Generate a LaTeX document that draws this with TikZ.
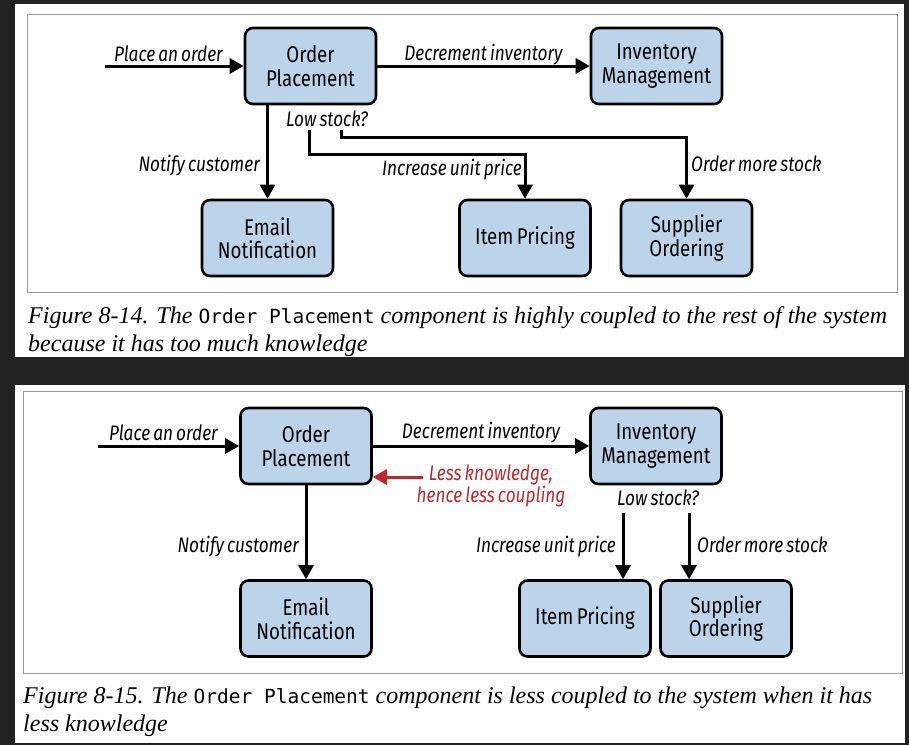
\documentclass[tikz,border=0pt]{standalone}
\usepackage{fontspec}
\setmainfont{Liberation Serif}
\newfontfamily\diagfont[FakeStretch=0.82]{Fira Sans}
\newfontfamily\notefont[FakeStretch=0.82,WordSpace=0.7]{Fira Sans}
\newfontfamily\codefont{DejaVu Sans Mono}
\usetikzlibrary{arrows.meta}
\definecolor{pagedark}{HTML}{222222}
\definecolor{compblue}{HTML}{BBD4EA}
\definecolor{noteRed}{HTML}{BE282D}
\definecolor{framegray}{HTML}{9A9A9A}
\tikzset{
	comp/.style={draw, rounded corners=8pt, fill=compblue, line width=2.6pt,
		minimum width=131pt, minimum height=76pt, align=center, inner sep=2pt,
		font=\diagfont\fontsize{22.8}{23.5}\selectfont},
	flow/.style={line width=3pt, -{Triangle[length=14pt,width=15pt]}},
	lbl/.style={inner sep=0pt, font=\notefont\itshape\fontsize{21}{22}\selectfont},
	capt/.style={inner sep=0pt, anchor=base west, font=\itshape\fontsize{24}{28}\selectfont},
}
\newcommand{\ordercode}{{\codefont\upshape\fontsize{19.5}{28}\selectfont Order Placement}}
\begin{document}
\begin{tikzpicture}[x=1pt,y=-1pt]
		\useasboundingbox (0,0) rectangle (909,745);
		\fill[pagedark] (0,0) rectangle (909,745);
		% figure 8-14
		\fill[white] (15,4) rectangle (904,357);
		\draw[framegray, line width=1pt] (27,14) rectangle (897,292);
		\node[comp] (place1) at (310.5,66) {Order\\Placement};
		\node[comp] (inv1) at (656.5,66) {Inventory\\Management};
		\node[comp] (email1) at (267.5,238) {Email\\Notification};
		\node[comp] (price1) at (525,238) {Item Pricing};
		\node[comp] (supp1) at (686.5,238) {Supplier\\Ordering};
		\coordinate (in1) at (105,66);
		\coordinate (ls1a) at (309,130);
		\coordinate (ls1b) at (341,130);
		\draw[flow] (in1) -- (place1);
		\draw[flow] (place1) -- (inv1);
		\draw[flow] (email1.north |- place1.south) -- (email1.north);
		\draw[flow] (ls1a) |- (price1.north |- 0,154) -- (price1.north);
		\draw[flow] (ls1b) |- (supp1.north |- 0,137) -- (supp1.north);
		\node[lbl, anchor=base east] at (223,61) {Place an order};
		\node[lbl, anchor=base] at (483.5,60) {Decrement inventory};
		\node[lbl, anchor=base west] at (286,126) {Low stock?};
		\node[lbl, anchor=base east] at (260,171) {Notify customer};
		\node[lbl, anchor=base east] at (522,175) {Increase unit price};
		\node[lbl, anchor=base west] at (691,171) {Order more stock};
		\begin{scope}
			\clip (15,4) rectangle (904,357);
			\node[capt] at (28,323) {Figure 8-14. The \ordercode{} component is highly coupled to the rest of the system};
			\node[capt] at (28,351) {because it has too much knowledge};
		\end{scope}
		% figure 8-15
		\fill[white] (15,385) rectangle (905,743);
		\draw[framegray, line width=1pt] (23,391) rectangle (902,673);
		\node[comp] (place2) at (306,446) {Order\\Placement};
		\node[comp] (inv2) at (656,446) {Inventory\\Management};
		\node[comp] (email2) at (306,618.5) {Email\\Notification};
		\node[comp] (price2) at (585,618.5) {Item Pricing};
		\node[comp] (supp2) at (726,618.5) {Supplier\\Ordering};
		\coordinate (in2) at (98,446);
		\coordinate (rd2) at (423,477);
		\coordinate (ls2a) at (623,513);
		\coordinate (ls2b) at (689,513);
		\draw[flow] (in2) -- (place2);
		\draw[flow] (place2) -- (inv2);
		\draw[flow] (place2) -- (email2);
		\draw[flow, noteRed] (rd2) -- (place2.east |- rd2);
		\draw[flow] (ls2a) -- (ls2a |- price2.north);
		\draw[flow] (ls2b) -- (ls2b |- supp2.north);
		\node[lbl, anchor=base east] at (218,440) {Place an order};
		\node[lbl, anchor=base] at (481,438) {Decrement inventory};
		\node[lbl, anchor=base, noteRed] at (491,480) {Less knowledge,};
		\node[lbl, anchor=base, noteRed] at (491,502) {hence less coupling};
		\node[lbl, anchor=base] at (658,505) {Low stock?};
		\node[lbl, anchor=base east] at (299,552) {Notify customer};
		\node[lbl, anchor=base east] at (616,552) {Increase unit price};
		\node[lbl, anchor=base west] at (697,552) {Order more stock};
		\begin{scope}
			\clip (15,385) rectangle (905,743);
			\node[capt] at (23,703) {Figure 8-15. The \ordercode{} component is less coupled to the system when it has};
			\node[capt] at (23,731) {less knowledge};
		\end{scope}
	\end{tikzpicture}
\end{document}
